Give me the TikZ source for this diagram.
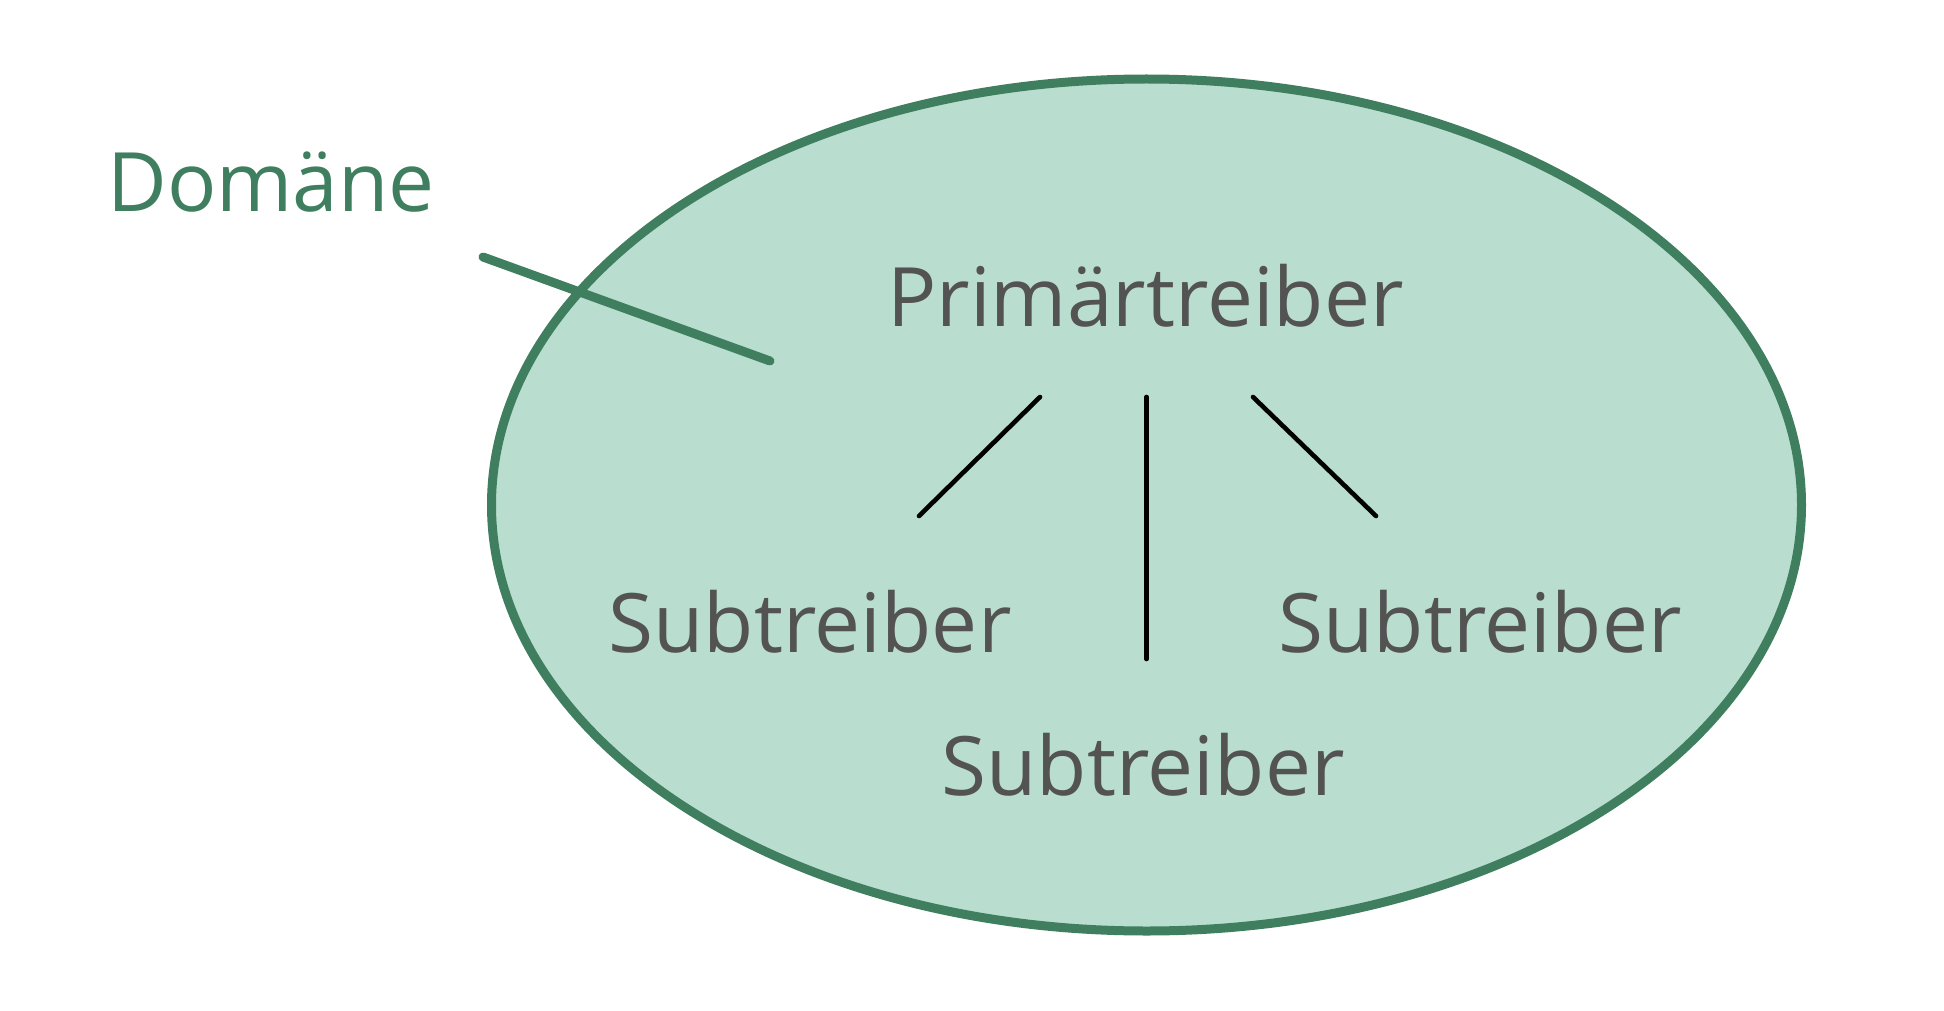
\documentclass[tikz,border=0pt]{standalone}
\usepackage{fontspec}
\setmainfont{Open Sans}
\usetikzlibrary{shapes.geometric}
\definecolor{dgreen}{HTML}{3F7F5F}
\definecolor{lgreen}{HTML}{B9DECF}
\definecolor{tgray}{HTML}{535353}
\tikzset{
  lbl/.style={inner sep=0pt, anchor=base, font=\fontsize{82}{98}\selectfont, text=tgray},
  dom/.style={inner sep=0pt, anchor=base, font=\fontsize{82}{98}\selectfont, text=dgreen},
  link/.style={draw=black, line width=4.6pt, line cap=round},
  glink/.style={draw=dgreen, line width=9pt, line cap=round},
}
\begin{document}
\begin{tikzpicture}[x=1pt,y=-1pt]
\useasboundingbox (0,0) rectangle (1944,1011);
\fill[white] (0,0) rectangle (1944,1011);
\node[draw=dgreen, fill=lgreen, line width=9pt, ellipse, minimum width=1310pt, minimum height=852pt, inner sep=0pt, outer sep=0pt] (dom) at (1146.5,505) {};
\node[dom] (domlbl) at (271,212) {Domäne};
\node[lbl] (prim) at (1145.5,326) {Primärtreiber};
\node[lbl] (subl) at (810,652) {Subtreiber};
\node[lbl] (subr) at (1480,652) {Subtreiber};
\node[lbl] (subm) at (1143,795) {Subtreiber};
\coordinate (d1) at (483,257);
\coordinate (d2) at (770,361);
\coordinate (a1) at (1040,397);
\coordinate (a2) at (919,516);
\coordinate (b1) at (1146.5,397);
\coordinate (b2) at (1146.5,659);
\coordinate (c1) at (1253,397);
\coordinate (c2) at (1376,516);
\draw[glink] (d1) -- (d2);
\draw[link] (a1) -- (a2);
\draw[link] (b1) -- (b2);
\draw[link] (c1) -- (c2);
\end{tikzpicture}
\end{document}
